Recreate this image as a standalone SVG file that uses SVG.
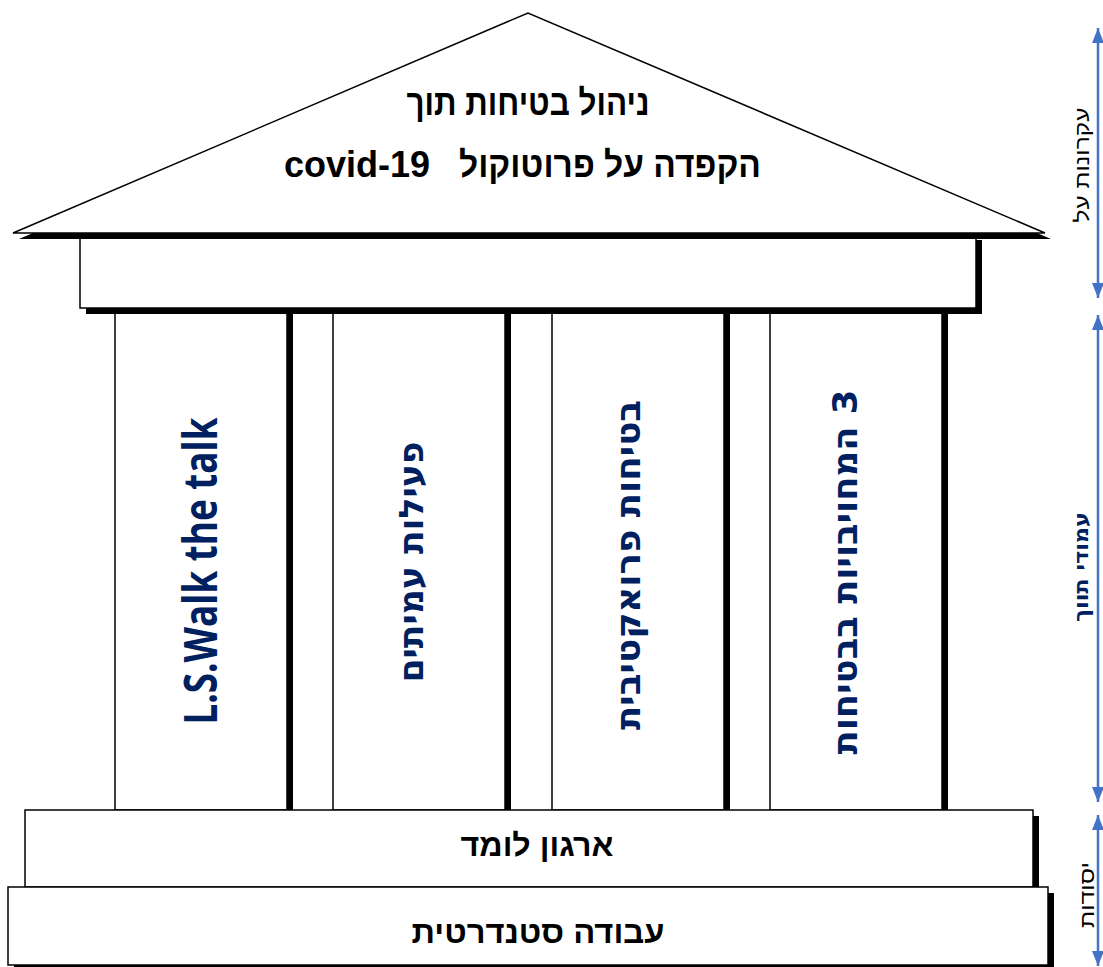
<svg xmlns="http://www.w3.org/2000/svg" width="1103" height="967" viewBox="0 0 1103 967">
  <style>
    .box { fill: #ffffff; stroke: #000000; stroke-width: 1.5; }
    .shadow { fill: #000000; stroke: none; }
    .roof-t { font-family: "Liberation Sans", Arial, sans-serif; font-weight: bold; font-size: 36px; fill: #000000; }
    .base-t { font-family: "Liberation Sans", Arial, sans-serif; font-weight: bold; font-size: 31px; fill: #000000; }
    .col-t { font-family: "DejaVu Sans", "Liberation Sans", sans-serif; font-weight: bold; font-size: 34px; fill: #002060; }
    .col-en { font-family: "Open Sans", Lato, sans-serif; font-weight: 700; font-size: 46px; fill: #002060; }
    .lbl { font-family: "Liberation Sans", Arial, sans-serif; font-size: 20px; fill: #000000; }
    .lbl-b { font-family: "DejaVu Sans", "Liberation Sans", sans-serif; font-size: 20px; font-weight: bold; fill: #002060; }
    .arrow { stroke: #4472C4; stroke-width: 2.5; fill: none; marker-start: url(#ah); marker-end: url(#ah); }
  </style>
  <defs>
    <marker id="ah" markerUnits="userSpaceOnUse" markerWidth="16" markerHeight="12" refX="15" refY="6" orient="auto-start-reverse">
      <path d="M0,0 L15,6 L0,12 z" fill="#4472C4"/>
    </marker>
  </defs>
  <rect width="1103" height="967" fill="#ffffff"/>

  <!-- columns -->
  <g id="col1">
    <rect class="shadow" x="121" y="314" width="172" height="502"/>
    <rect class="box" x="115" y="308" width="172" height="502"/>
    <text class="col-en" transform="translate(217,571) rotate(-90)" text-anchor="middle" textLength="307" lengthAdjust="spacingAndGlyphs">L.S.Walk the talk</text>
  </g>
  <g id="col2">
    <rect class="shadow" x="339" y="314" width="172" height="502"/>
    <rect class="box" x="333" y="308" width="172" height="502"/>
    <text class="col-t" transform="translate(423,562) rotate(-90)" text-anchor="middle" direction="rtl" textLength="241" lengthAdjust="spacingAndGlyphs">פעילות עמיתים</text>
  </g>
  <g id="col3">
    <rect class="shadow" x="558" y="314" width="172" height="502"/>
    <rect class="box" x="552" y="308" width="172" height="502"/>
    <text class="col-t" transform="translate(640,565) rotate(-90)" text-anchor="middle" direction="rtl" textLength="330" lengthAdjust="spacingAndGlyphs">בטיחות פרואקטיבית</text>
  </g>
  <g id="col4">
    <rect class="shadow" x="776" y="314" width="172" height="502"/>
    <rect class="box" x="770" y="308" width="172" height="502"/>
    <text class="col-t" transform="translate(857,572) rotate(-90)" text-anchor="middle" direction="rtl" textLength="365" lengthAdjust="spacingAndGlyphs">3 המחויבויות בבטיחות</text>
  </g>

  <!-- architrave -->
  <g id="architrave">
    <rect class="shadow" x="86" y="240" width="896" height="74"/>
    <rect class="box" x="80" y="234" width="896" height="74"/>
  </g>

  <!-- roof -->
  <g id="roof">
    <polygon class="shadow" points="19,239 534,19 1051,239"/>
    <polygon class="box" points="13,233 528,13 1045,233"/>
    <text class="roof-t" x="528" y="115" text-anchor="middle" direction="rtl" textLength="243" lengthAdjust="spacingAndGlyphs">ניהול בטיחות תוך</text>
    <text class="roof-t" x="610" y="177" text-anchor="middle" direction="rtl" textLength="302" lengthAdjust="spacingAndGlyphs">הקפדה על פרוטוקול</text>
    <text class="roof-t" x="284" y="177" textLength="146" lengthAdjust="spacingAndGlyphs">covid-19</text>
  </g>

  <!-- bases -->
  <g id="base1">
    <rect class="shadow" x="31" y="816" width="1008" height="77"/>
    <rect class="box" x="25" y="810" width="1008" height="77"/>
    <text class="base-t" x="537" y="856" text-anchor="middle" direction="rtl" textLength="153" lengthAdjust="spacingAndGlyphs">ארגון לומד</text>
  </g>
  <g id="base2">
    <rect class="shadow" x="14" y="893" width="1040" height="78"/>
    <rect class="box" x="8" y="887" width="1040" height="78"/>
    <text class="base-t" x="538" y="943" text-anchor="middle" direction="rtl" textLength="253" lengthAdjust="spacingAndGlyphs">עבודה סטנדרטית</text>
  </g>

  <!-- side brackets -->
  <g id="connectors">
    <line class="arrow" x1="1098" y1="28" x2="1098" y2="298"/>
    <line class="arrow" x1="1098" y1="315" x2="1098" y2="802"/>
    <line class="arrow" x1="1098" y1="815" x2="1098" y2="966"/>
  </g>
  <g id="label-top">
    <text class="lbl" transform="translate(1089,165) rotate(-90)" text-anchor="middle" direction="rtl" textLength="115" lengthAdjust="spacingAndGlyphs">עקרונות על</text>
  </g>
  <g id="label-mid">
    <text class="lbl-b" transform="translate(1088,567) rotate(-90)" text-anchor="middle" direction="rtl" textLength="110" lengthAdjust="spacingAndGlyphs">עמודי תווך</text>
  </g>
  <g id="label-bottom">
    <text class="lbl" transform="translate(1094,895) rotate(-90)" text-anchor="middle" direction="rtl" textLength="66" lengthAdjust="spacingAndGlyphs">יסודות</text>
  </g>
</svg>
